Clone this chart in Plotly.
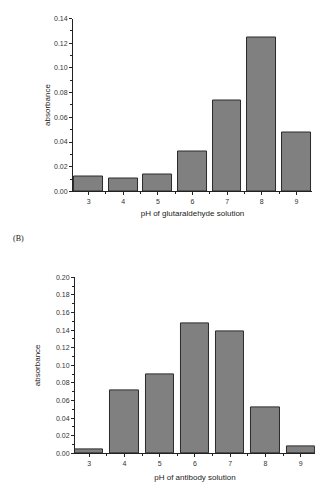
import plotly.graph_objects as go

ph = [3, 4, 5, 6, 7, 8, 9]
glut_abs = [0.012, 0.0104, 0.0136, 0.032, 0.074, 0.125, 0.0477]
anti_abs = [0.0045, 0.072, 0.090, 0.148, 0.139, 0.052, 0.0078]

y1_ticks = [0.00, 0.02, 0.04, 0.06, 0.08, 0.10, 0.12, 0.14]
y2_ticks = [0.00, 0.02, 0.04, 0.06, 0.08, 0.10, 0.12, 0.14, 0.16, 0.18, 0.20]

bar_color = "#808080"
edge = "#2a2a2a"
font_fam = "Liberation Sans, Arial, sans-serif"

fig = go.Figure()
fig.add_trace(go.Bar(x=ph, y=glut_abs, width=0.83, marker=dict(color=bar_color, line=dict(color=edge, width=1)),
                     xaxis="x", yaxis="y", showlegend=False))
fig.add_trace(go.Bar(x=ph, y=anti_abs, width=0.8, marker=dict(color=bar_color, line=dict(color=edge, width=1)),
                     xaxis="x2", yaxis="y2", showlegend=False))

axis_common = dict(showline=True, linecolor="#222", linewidth=1, showgrid=False, zeroline=False,
                   ticks="outside", ticklen=3, tickwidth=1, tickcolor="#222",
                   tickfont=dict(size=7, color="#333", family=font_fam))
xminor = dict(ticks="outside", ticklen=2, tickcolor="#222", tick0=3.5, dtick=1)
yminor = dict(ticks="outside", ticklen=2, tickcolor="#222", dtick=0.01)

fig.update_layout(
    width=326, height=499,
    margin=dict(l=0, r=0, t=0, b=0),
    paper_bgcolor="white", plot_bgcolor="white",
    bargap=0,
    xaxis=dict(domain=[0.224, 0.957], anchor="y", range=[2.55, 9.45], tickvals=ph, minor=xminor,
               title=dict(text="pH of glutaraldehyde solution", standoff=6,
                          font=dict(size=8, color="#222", family=font_fam)), **axis_common),
    yaxis=dict(domain=[0.619, 0.9705], anchor="x", range=[0, 0.14], tickvals=y1_ticks,
               tickformat=".2f", minor=yminor,
               title=dict(text="absorbance", standoff=2,
                          font=dict(size=8, color="#222", family=font_fam)), **axis_common),
    xaxis2=dict(domain=[0.230, 0.966], anchor="y2", range=[2.6, 9.4], tickvals=ph, minor=xminor,
                title=dict(text="pH of antibody solution", standoff=8,
                           font=dict(size=8, color="#222", family=font_fam)), **axis_common),
    yaxis2=dict(domain=[0.0868, 0.4443], anchor="x2", range=[0, 0.20], tickvals=y2_ticks,
                tickformat=".2f", minor=yminor,
                title=dict(text="absorbance", standoff=14,
                           font=dict(size=8, color="#222", family=font_fam)), **axis_common),
    annotations=[dict(text="(B)", x=18 / 326, y=1 - 238 / 499, xref="paper", yref="paper",
                      xanchor="center", yanchor="middle", showarrow=False,
                      font=dict(size=8, color="#111", family="Liberation Serif, Times New Roman, serif"))],
)

fig.write_html("out.html")
